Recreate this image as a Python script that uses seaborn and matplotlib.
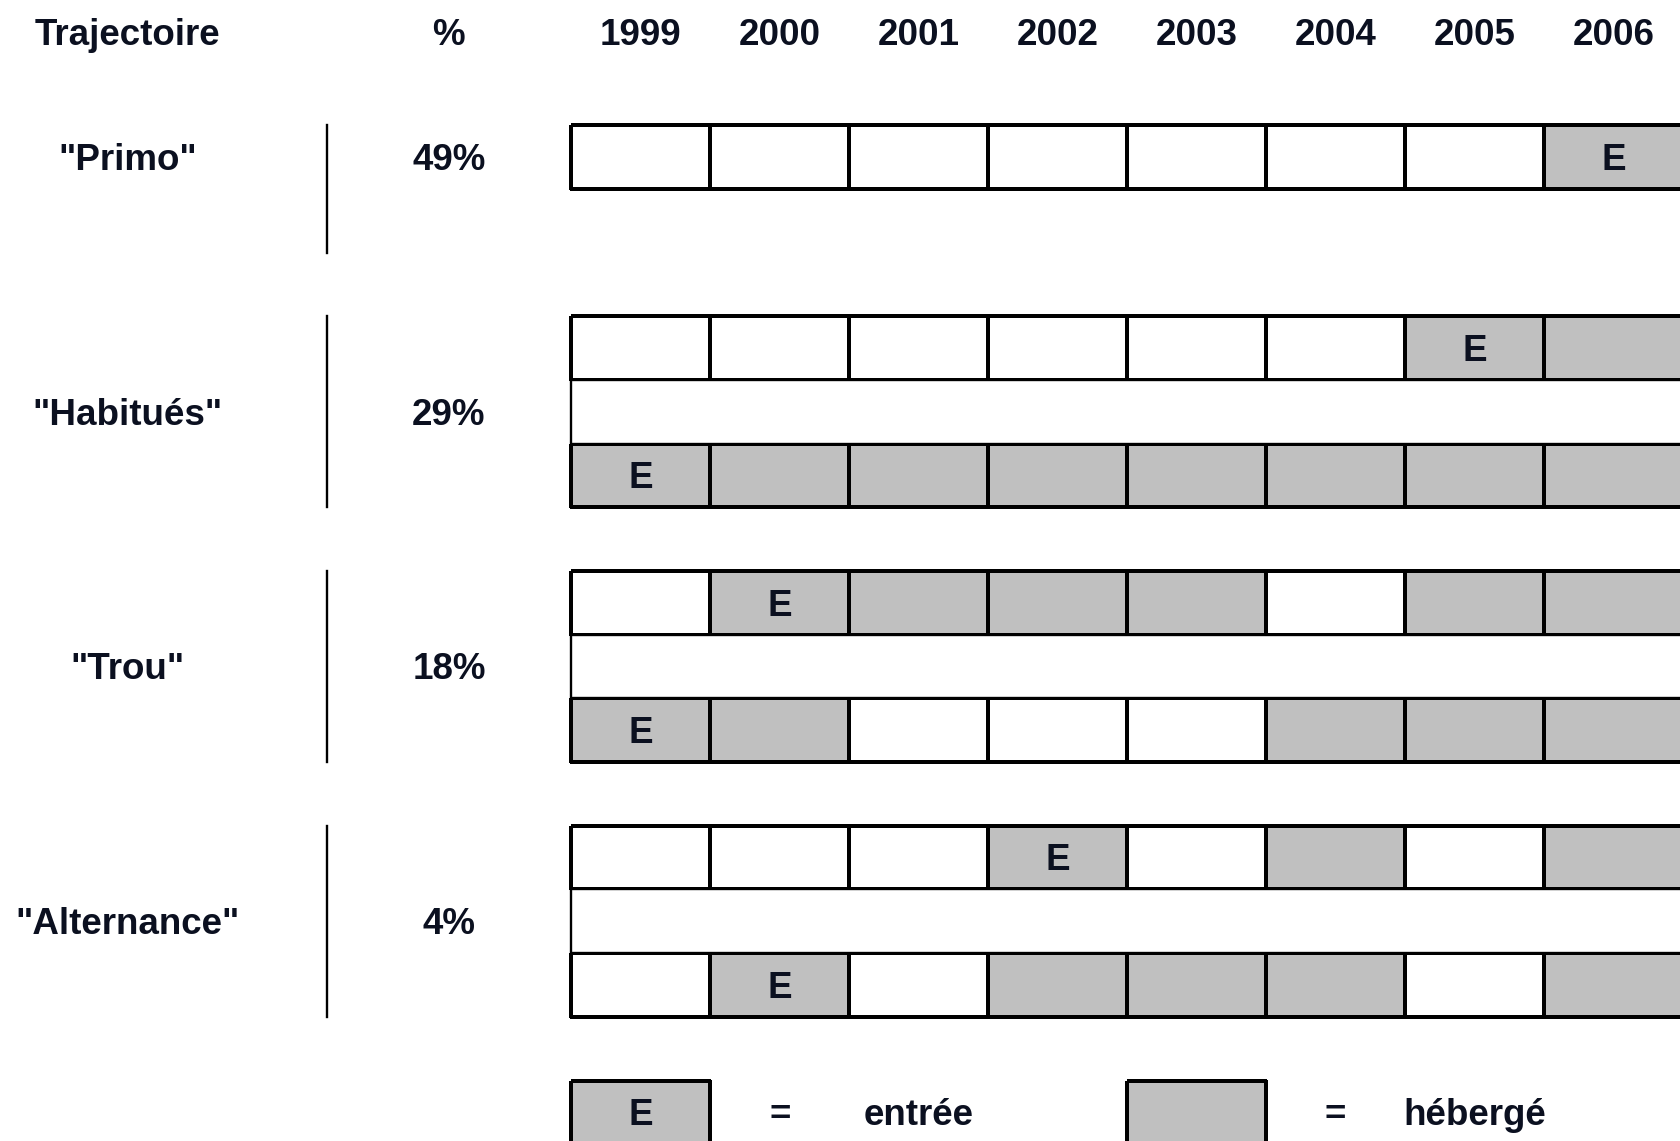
import numpy as np
import pandas as pd
import matplotlib
matplotlib.use("Agg")
import matplotlib.pyplot as plt
from matplotlib.colors import ListedColormap
from matplotlib.patches import Rectangle
import seaborn as sns

annees = [1999, 2000, 2001, 2002, 2003, 2004, 2005, 2006]
trajectoires = ['"Primo"', '"Habitués"', '"Trou"', '"Alternance"']
pourcentages = ["49%", "29%", "18%", "4%"]

# 0 = vide, 1 = hébergé, 2 = entrée ; None = ligne vide fusionnée
primo = [[0, 0, 0, 0, 0, 0, 0, 2]]
habitues = [[0, 0, 0, 0, 0, 0, 2, 1], None, [2, 1, 1, 1, 1, 1, 1, 1]]
trou = [[0, 2, 1, 1, 1, 0, 1, 1], None, [2, 1, 0, 0, 0, 1, 1, 1]]
alternance = [[0, 0, 0, 2, 0, 1, 0, 1], None, [0, 2, 0, 1, 1, 1, 0, 1]]
legende = [2, None, None, None, 1, None, None, None]
legende_textes = ["=", "entrée", "=", "hébergé"]

plt.rcParams['font.family'] = ['Liberation Sans', 'DejaVu Sans']
txt = '#0b1020'
gris = '#c0c0c0'
fs = 26.5
lw = 1.7

groupes = [primo, habitues, trou, alternance]
debut = [0, 3, 7, 11]
grille = np.full((16, len(annees)), np.nan)
fusion = []
for d, g in zip(debut, groupes):
    for k, ligne in enumerate(g):
        if ligne is None:
            fusion.append(d + k)
        else:
            grille[d + k] = ligne
grille[15] = [np.nan if v is None else v for v in legende]

df = pd.DataFrame(grille, columns=annees)
masque = np.isnan(grille)
annot = np.where(grille == 2, "E", "")

fig = plt.figure(figsize=(16.81, 11.41), dpi=100)
ax = fig.add_axes([0, 0, 1, 1])
sns.heatmap(df, mask=masque, cmap=ListedColormap(['white', gris, gris]),
            vmin=-0.5, vmax=2.5, cbar=False, linewidths=lw, linecolor='black',
            annot=annot, fmt='', annot_kws=dict(color=txt, fontsize=fs, fontweight='bold'),
            ax=ax)
# pas de bord sur les cases masquées
mesh = ax.collections[0]
mesh.set_edgecolor([(0, 0, 0, 0) if m else (0, 0, 0, 1) for m in masque.ravel()])

# lignes vides fusionnées
for r in fusion:
    ax.add_patch(Rectangle((0, r), len(annees) + 1, 1, facecolor='white',
                           edgecolor='black', lw=lw))

# en-têtes
ax.text(-3.19, -1.47, "Trajectoire", ha='center', va='center', fontsize=fs, fontweight='bold', color=txt)
ax.text(-0.88, -1.47, "%", ha='center', va='center', fontsize=fs, fontweight='bold', color=txt)
for j, a in enumerate(annees):
    ax.text(j + 0.5, -1.47, str(a), ha='center', va='center', fontsize=fs, fontweight='bold', color=txt)

# libellés des trajectoires
for d, g, nom, p in zip(debut, groupes, trajectoires, pourcentages):
    yc = d + len(g) / 2
    ax.text(-3.19, yc, nom, ha='center', va='center', fontsize=fs, fontweight='bold', color=txt)
    ax.text(-0.88, yc, p, ha='center', va='center', fontsize=fs, fontweight='bold', color=txt)
    ax.plot([-1.76, -1.76], [d, d + max(len(g), 2)], color='black', lw=lw)

# légende
for x, t in zip([1.5, 2.5, 5.5, 6.5], legende_textes):
    ax.text(x, 15.5, t, ha='center', va='center', fontsize=fs, fontweight='bold', color=txt)

# petit décalage vertical de tous les textes
for t in ax.texts:
    x, y = t.get_position()
    t.set_position((x, y + 0.05))

ax.set_xlim(-4.11, 7.985)
ax.set_ylim(15.95, -1.97)
ax.set_axis_off()

fig.savefig("out.png", dpi=100)
